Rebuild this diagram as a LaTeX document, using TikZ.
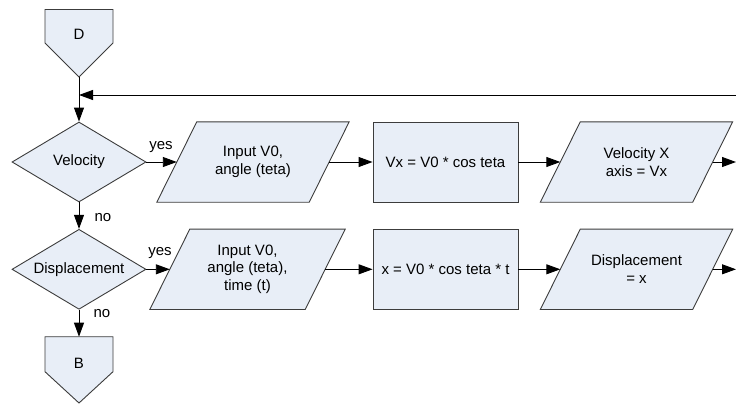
\documentclass[tikz,border=0pt]{standalone}
\usepackage{fontspec}
\setmainfont{Liberation Sans}
\usetikzlibrary{shapes.geometric,arrows.meta,backgrounds}
\definecolor{boxfill}{RGB}{232,238,247}
\definecolor{boxline}{RGB}{60,60,60}
\begin{document}
\begin{tikzpicture}[x=1pt,y=-1pt,
  font=\fontsize{15}{17.8}\selectfont,
  shapebox/.style={fill=boxfill, draw=boxline, line width=0.9pt},
  conn/.style={draw=black, line width=0.9pt, -{Triangle[length=14pt,width=10pt]}},
  decision/.style={diamond, shapebox, aspect=1.66, inner sep=0pt, minimum width=134pt, minimum height=80pt},
  process/.style={rectangle, shapebox, minimum width=145pt, minimum height=80pt, inner sep=0pt, align=center},
  iotext/.style={rectangle, minimum width=152pt, minimum height=80pt, inner sep=0pt, align=center},
  lbl/.style={inner sep=0pt}]
\useasboundingbox (0,0) rectangle (736,404);

% off-page connectors
\node[lbl] (D) at (79,34.7) {D};
\node[lbl] (B) at (79,363) {B};
\coordinate (Dtip) at (79,77);
\coordinate (Btop) at (79,336.7);
\begin{pgfonlayer}{background}
  \draw[shapebox] (45,9.5) -- (113,9.5) -- (113,43) -- (Dtip) -- (45,43) -- cycle;
  \draw[shapebox] (45,336.7) -- (113,336.7) -- (113,371.7) -- (79,403) -- (45,371.7) -- cycle;
\end{pgfonlayer}

% decisions
\node[decision] (vel) at (79,162) {Velocity};
\node[decision] (disp) at (79,269.3) {Displacement};

% processes
\node[process] (p1) at (445.5,162) {Vx = V0 * cos teta};
\node[process] (p2) at (445.5,269.3) {x = V0 * cos teta * t};

% input / output (parallelograms)
\node[iotext] (in1) at (253,162) {Input V0,\\angle (teta)};
\node[iotext, minimum width=155pt] (in2) at (247.5,269.3) {Input V0,\\angle (teta),\\time (t)};
\node[iotext] (out1) at (636.5,162) {Velocity X\\axis = Vx};
\node[iotext] (out2) at (636.5,269.3) {Displacement\\= x};
\begin{pgfonlayer}{background}
  \foreach \n in {in1,in2,out1,out2}
    \draw[shapebox] ([xshift=20pt]\n.north west) -- ([xshift=20pt]\n.north east)
      -- ([xshift=-20pt]\n.south east) -- ([xshift=-20pt]\n.south west) -- cycle;
\end{pgfonlayer}

% connectors
\coordinate (fbR) at (736,95);
\coordinate (r1) at (736,162);
\coordinate (r2) at (736,269.3);
\draw[conn] (Dtip) -- (vel.north);
\draw[conn] (fbR) -- (fbR -| vel.north);
\draw[conn] (vel.east) -- (in1.west);
\draw[conn] (in1.east) -- (p1.west);
\draw[conn] (p1.east) -- (out1.west);
\draw[conn] (out1.east) -- (r1);
\draw[conn] (vel.south) -- (disp.north);
\draw[conn] (disp.east) -- (in2.west);
\draw[conn] (in2.east) -- (p2.west);
\draw[conn] (p2.east) -- (out2.west);
\draw[conn] (out2.east) -- (r2);
\draw[conn] (disp.south) -- (Btop);

% labels
\node[lbl] (y1) at (161,146.7) {yes};
\node[lbl] (n1) at (103,218) {no};
\node[lbl] (y2) at (160,253) {yes};
\node[lbl] (n2) at (102,314) {no};
\end{tikzpicture}
\end{document}
